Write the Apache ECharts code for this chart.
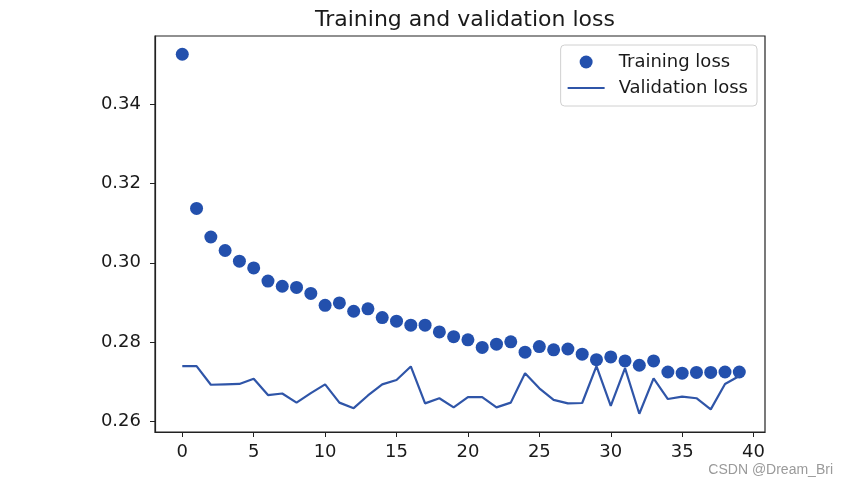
<!DOCTYPE html>
<html><head><meta charset="utf-8">
<script src="https://cdn.jsdelivr.net/npm/echarts@6/dist/echarts.min.js"></script>
<style>html,body{margin:0;padding:0;background:#fff}#c{width:849px;height:486px}</style>
</head><body><div id="c"></div>
<script>
const epochs = Array.from({length:40},(_,i)=>i);
const trainingLoss = [0.3525,0.3137,0.3065,0.3031,0.3004,0.2987,0.2954,0.2941,0.2938,0.2923,
  0.2893,0.2899,0.2878,0.2884,0.2862,0.2853,0.2843,0.2843,0.2826,0.2814,
  0.2806,0.2787,0.2795,0.2801,0.2775,0.2789,0.2781,0.2783,0.2770,0.2756,
  0.2763,0.2753,0.2742,0.2753,0.2725,0.2722,0.2724,0.2724,0.2725,0.2725];
const validationLoss = [0.2740,0.2740,0.2693,0.2694,0.2695,0.2708,0.2667,0.2671,0.2648,0.2672,
  0.2694,0.2648,0.2634,0.2666,0.2694,0.2705,0.2739,0.2646,0.2659,0.2636,
  0.2662,0.2662,0.2636,0.2648,0.2722,0.2684,0.2655,0.2646,0.2647,0.2740,
  0.2640,0.2735,0.2620,0.2709,0.2657,0.2663,0.2659,0.2631,0.2695,0.2715];
const xTicks = [0,5,10,15,20,25,30,35,40];
const yTicks = [0.26,0.28,0.30,0.32,0.34];

const chart = echarts.init(document.getElementById('c'), null, {renderer:'canvas'});
const font = 'DejaVu Sans';
const blue = '#2350ad';
chart.setOption({
  animation:false,
  backgroundColor:'#fff',
  title:{text:'Training and validation loss', left:460, top:4, textAlign:'center',
    textStyle:{fontFamily:font, fontWeight:'normal', fontSize:22, color:'#1a1a1a'}},
  grid:{left:155, right:84, top:36, bottom:54, show:true, borderColor:'#222', borderWidth:1.2, backgroundColor:'#fff'},
  legend:{orient:'vertical', right:92, top:45, padding:[8,9,9,7], itemGap:8,
    itemWidth:37, itemHeight:13,
    borderColor:'#d0d0d0', borderWidth:1, borderRadius:4, backgroundColor:'#fff',
    textStyle:{fontFamily:font, fontSize:18, color:'#1a1a1a', padding:[0,0,0,9]},
    data:[{name:'Training loss', icon:'circle'},{name:'Validation loss', icon:'path://M0,0H40V2.2H0Z'}]},
  xAxis:{type:'value', min:-1.91, max:40.8,
    axisLine:{show:true, onZero:false, lineStyle:{color:'#222', width:1.2}},
    axisTick:{show:true, length:5, customValues:xTicks, lineStyle:{color:'#222'}},
    axisLabel:{customValues:xTicks, fontFamily:font, fontSize:18, color:'#1a1a1a', margin:11},
    splitLine:{show:false}},
  yAxis:{type:'value', min:0.2574, max:0.3571,
    axisLine:{show:true, onZero:false, lineStyle:{color:'#222', width:1.2}},
    axisTick:{show:true, length:5, customValues:yTicks, lineStyle:{color:'#222'}},
    axisLabel:{customValues:yTicks, fontFamily:font, fontSize:18, color:'#1a1a1a', margin:14,
      formatter:v=>v.toFixed(2)},
    splitLine:{show:false}},
  series:[
    {name:'Training loss', type:'scatter', symbol:'circle', symbolSize:13,
      itemStyle:{color:blue, opacity:1},
      data:epochs.map((e,i)=>[e,trainingLoss[i]])},
    {name:'Validation loss', type:'line', symbol:'none', showSymbol:false,
      lineStyle:{color:'#2f55a8', width:2.2}, itemStyle:{color:'#2f55a8'},
      data:epochs.map((e,i)=>[e,validationLoss[i]])}
  ],
  graphic:[{type:'text', right:16, top:463,
    style:{text:'CSDN @Dream_Bri', font:'14px "Liberation Sans", Arial, sans-serif', fill:'#9a9a9a'}}]
});
</script></body></html>
